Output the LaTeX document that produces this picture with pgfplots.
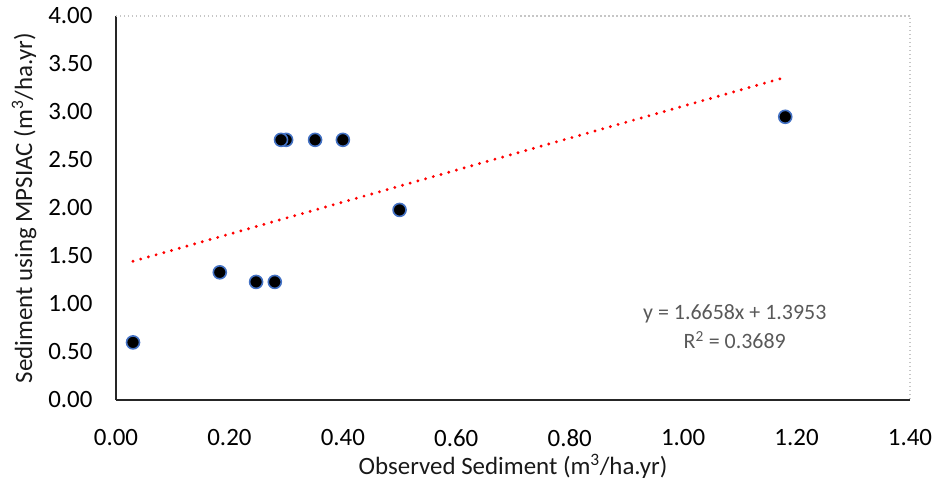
\documentclass[border=0pt]{standalone}
\usepackage{pgfplots}
\pgfplotsset{compat=1.18}
\usepackage{fontspec}
\setmainfont{Carlito}
\definecolor{mkblue}{HTML}{4472C4}
\definecolor{txtgray}{HTML}{595959}
\begin{document}
\begin{tikzpicture}
\begin{axis}[
  scale only axis, width=794bp, height=384bp,
  xmin=0, xmax=1.4, ymin=0, ymax=4,
  xtick={0,0.2,...,1.4}, ytick={0,0.5,...,4},
  axis x line*=bottom, axis y line*=left,
  axis line style={black!85, line width=1.3bp, -},
  major tick length=0pt,
  /pgf/number format/.cd, fixed, fixed zerofill, precision=2, assume math mode=true,
  /pgfplots/.cd,
  ticklabel style={font=\fontsize{25}{25}\selectfont, black},
  xticklabel style={yshift=-26bp},
  yticklabel style={xshift=-20bp},
  xlabel={Observed Sediment (m\textsuperscript{3}/ha.yr)},
  ylabel={Sediment using MPSIAC (m\textsuperscript{3}/ha.yr)},
  label style={font=\fontsize{25}{25}\selectfont, black!90},
  xlabel style={yshift=-1bp},
  ylabel style={yshift=5bp},
  clip=false,
]
\draw[gray!45, line width=1.5bp, dash pattern=on 1.5bp off 2.5bp]
  (rel axis cs:0,1) -- (rel axis cs:1,1) -- (rel axis cs:1,0);
% trendline y = 1.6658x + 1.3953
\addplot[red, line width=3.2bp, line cap=round, dash pattern=on 0bp off 8bp] coordinates {
  (0.03,1.445) (1.18,3.361)
};
\addplot[only marks, mark=*, mark size=6.5bp,
  mark options={fill=black, draw=mkblue, line width=1.6bp}] coordinates {
  (0.03,0.60) (0.183,1.33) (0.247,1.23) (0.280,1.23)
  (0.300,2.71) (0.291,2.71) (0.351,2.71) (0.400,2.71)
  (0.50,1.98) (1.18,2.95)
};
\node[txtgray, font=\fontsize{22}{29}\selectfont, align=center]
  at (axis cs:1.091,0.76) {y = 1.6658x + 1.3953\\R\textsuperscript{2} = 0.3689};
\end{axis}
\pgfresetboundingbox
\path[use as bounding box] (current axis.origin) ++(-116bp,-83bp) rectangle ++(936bp,483bp);
\end{tikzpicture}
\end{document}
